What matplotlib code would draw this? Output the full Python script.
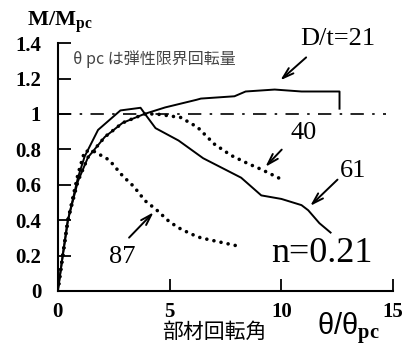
import matplotlib.pyplot as plt
import numpy as np

plt.rcParams['mathtext.fontset'] = 'custom'
plt.rcParams['mathtext.bf'] = 'Liberation Serif:bold'
plt.rcParams['mathtext.rm'] = 'Liberation Serif'
plt.rcParams['mathtext.sf'] = 'Liberation Sans'

# D/t = 21 (solid, rises to ~1.13)
x21 = [0, 0.22, 0.45, 0.9, 1.35, 2.1, 2.9, 3.87, 4.8, 6.2, 6.4, 7.9, 8.4, 9.7, 10.9, 12.6, 12.6]
y21 = [0, 0.2, 0.4, 0.62, 0.755, 0.87, 0.95, 1.0, 1.037, 1.08, 1.087, 1.10, 1.127, 1.138, 1.127, 1.127, 1.03]

# D/t = 40 (dotted)
x40 = [0, 0.22, 0.45, 0.9, 1.35, 2.1, 2.9, 3.87, 4.4, 5.5, 6.25, 7.0, 7.75, 8.5, 9.1, 10.1]
y40 = [0, 0.2, 0.4, 0.62, 0.755, 0.87, 0.95, 1.0, 1.0, 0.98, 0.925, 0.83, 0.766, 0.72, 0.687, 0.625]

# D/t = 61 (solid, peaks early then drops)
x61 = [0, 0.22, 0.45, 0.9, 1.2, 1.8, 2.8, 3.7, 3.9, 4.37, 5.4, 6.5, 8.2, 9.1, 10.0, 10.9, 11.2, 11.7, 12.2]
y61 = [0, 0.2, 0.4, 0.64, 0.76, 0.91, 1.02, 1.035, 1.0, 0.92, 0.85, 0.75, 0.64, 0.54, 0.52, 0.485, 0.456, 0.383, 0.33]

# D/t = 87 (dotted)
x87 = [0, 0.22, 0.45, 0.9, 1.2, 1.6, 2.3, 2.9, 3.4, 3.9, 4.4, 5.0, 5.5, 6.0, 6.4, 7.3, 8.2]
y87 = [0, 0.2, 0.4, 0.66, 0.79, 0.79, 0.74, 0.65, 0.59, 0.51, 0.46, 0.39, 0.35, 0.32, 0.30, 0.275, 0.25]

xticks = [0, 5, 10, 15]
yticks = [0, 0.2, 0.4, 0.6, 0.8, 1, 1.2, 1.4]
ytick_labels = ['0', '0.2', '0.4', '0.6', '0.8', '1', '1.2', '1.4']

fig = plt.figure(figsize=(4.13, 3.51), dpi=100)
ax = fig.add_axes([0.140, 0.171, 0.812, 0.706])

dots = dict(color='black', linewidth=2.6, linestyle=(0, (0.01, 2.0)),
            dash_capstyle='round', solid_capstyle='round')
ax.plot([0, 14.7], [1, 1], color='black', linewidth=1.2, linestyle=(0, (8, 5, 1.5, 5)))
ax.plot(x40, y40, **dots)
ax.plot(x87, y87, **dots)
ax.plot(x21, y21, color='black', linewidth=1.4)
ax.plot(x61, y61, color='black', linewidth=1.4)

ax.set_xlim(0, 15)
ax.set_ylim(0, 1.4)
ax.spines['top'].set_visible(False)
ax.spines['right'].set_visible(False)
for s in ['left', 'bottom']:
    ax.spines[s].set_linewidth(1.5)
ax.set_xticks(xticks)
ax.set_yticks(yticks)
ax.set_yticklabels(ytick_labels)
ax.tick_params(direction='in', length=9, width=1.3, labelsize=15)
ax.tick_params(axis='y', pad=12)
ax.tick_params(axis='x', pad=8)
for lab in ax.get_xticklabels() + ax.get_yticklabels():
    lab.set_family('Liberation Serif')
    lab.set_fontweight('bold')

serif = 'Liberation Serif'
arrow = dict(arrowstyle='->,head_length=0.8,head_width=0.25', color='black', linewidth=1.4)
ax.annotate('', xy=(9.86, 1.18), xytext=(11.2, 1.33), arrowprops=arrow, annotation_clip=False)
ax.text(12.5, 1.425, 'D/t=21', family=serif, fontsize=19, ha='center', va='center', clip_on=False)
ax.annotate('', xy=(9.2, 0.69), xytext=(10.1, 0.81), arrowprops=arrow)
ax.text(11.0, 0.89, '40', family=serif, fontsize=19, ha='center', va='center')
ax.annotate('', xy=(11.2, 0.47), xytext=(12.6, 0.64), arrowprops=arrow)
ax.text(13.2, 0.68, '61', family=serif, fontsize=19, ha='center', va='center')
ax.annotate('', xy=(4.37, 0.456), xytext=(3.1, 0.29), arrowprops=arrow)
ax.text(2.9, 0.19, '87', family=serif, fontsize=19, ha='center', va='center')
ax.text(11.8, 0.21, 'n=0.21', family=serif, fontsize=26, ha='center', va='center')
ax.text(0.68, 1.31, 'θ pc は弾性限界回転量', family=['Noto Sans CJK JP', 'DejaVu Serif'],
        fontsize=11.5, color='#444444', ha='left', va='center')

fig.text(0.145, 0.937, r'$\mathbf{M/M_{pc}}$', fontsize=16, ha='center', va='center')
fig.text(0.52, 0.054, '部材回転角', family='Noto Sans CJK JP', fontsize=15, ha='center', va='center')
fig.text(0.843, 0.064, r'$\mathsf{\theta/\theta}_{\mathbf{pc}}$', fontsize=21, ha='center', va='center')

fig.savefig('out.png', dpi=100)
